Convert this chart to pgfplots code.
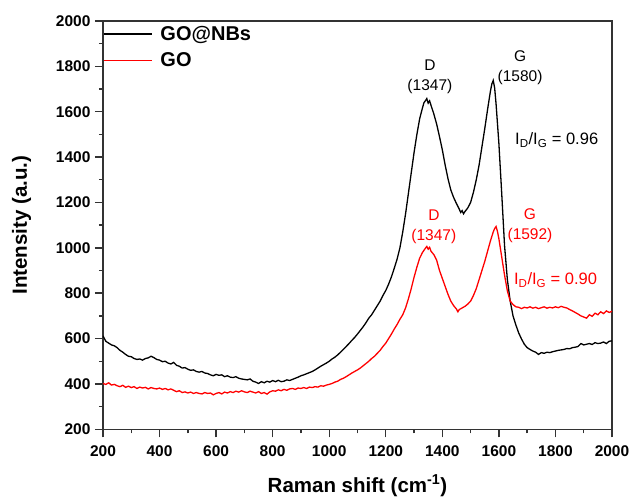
\documentclass[border=0pt]{standalone}
\usepackage{pgfplots}
\pgfplotsset{compat=1.18}
\usepackage{fontspec}
\setmainfont{Liberation Sans}
\begin{document}
\begin{tikzpicture}[x=1pt,y=1pt]
\useasboundingbox (-103,-69) rectangle (527,429.3);
\begin{axis}[at={(0,0)}, anchor=south west, scale only axis,
 width=509pt, height=408.3pt,
 xmin=200, xmax=2000, ymin=200, ymax=2000,
 xtick={200,400,...,2000}, ytick={200,400,...,2000},
 minor x tick num=1, minor y tick num=1,
 tick align=outside, major tick length=8pt, minor tick length=4pt,
 xtick pos=left, ytick pos=left,
 axis line style={black!80, line width=1.4pt},
 tick style={black!80, line width=1.4pt},
 ticklabel style={font=\bfseries\fontsize{15.5}{18}\selectfont},
 xticklabel style={yshift=-5pt},
 yticklabel style={xshift=-1pt},
 /pgf/number format/assume math mode=true,
 /pgf/number format/1000 sep={},
 xlabel={Raman shift (cm\textsuperscript{-1})},
 ylabel={Intensity (a.u.)},
 label style={font=\bfseries\fontsize{20.5}{24}\selectfont},
 xlabel style={yshift=-11pt},
 ylabel style={yshift=18pt},
 legend style={at={(0,1)}, anchor=north west, draw=none, fill=none,
   font=\bfseries\fontsize{20}{24}\selectfont, inner xsep=0pt, inner ysep=3pt,
   row sep=7pt, /tikz/every odd column/.append style={column sep=6pt}},
 legend cell align=left,
 legend image code/.code={\draw[#1, line width=1.3pt] (0pt,0pt) -- (48pt,0pt);},
]
\addplot[black, line width=1.3pt] table {
200 612
210 588
220 580
230 572
240 568
250 560
260 548
270 540
280 530
290 522
300 520
310 512
320 508
330 510
340 505
350 512
360 515
370 522
380 516
390 508
400 505
410 498
420 500
430 492
440 488
450 495
460 482
470 478
480 470
490 472
500 465
510 460
520 462
530 455
540 452
550 455
560 448
570 446
580 440
590 436
600 442
610 438
620 440
630 432
640 436
650 430
660 428
670 432
680 425
690 422
700 420
710 418
720 422
730 412
740 408
750 402
760 410
770 405
780 412
790 408
800 415
810 410
820 416
830 410
840 412
850 418
860 415
870 420
880 425
890 430
900 436
910 440
920 445
930 450
940 455
950 462
960 470
970 478
980 485
990 492
1000 500
1010 510
1020 518
1030 528
1040 540
1050 552
1060 565
1070 578
1080 592
1090 605
1100 620
1110 636
1120 652
1130 670
1140 690
1150 705
1160 725
1170 745
1180 765
1190 790
1200 812
1210 840
1220 872
1230 910
1240 950
1250 1000
1260 1070
1270 1150
1280 1240
1290 1330
1300 1420
1310 1500
1320 1570
1330 1618
1335 1640
1340 1648
1345 1658
1350 1638
1355 1648
1360 1628
1370 1590
1380 1545
1390 1490
1400 1432
1410 1365
1420 1305
1430 1255
1440 1222
1450 1195
1460 1170
1465 1156
1470 1164
1475 1150
1480 1160
1490 1176
1500 1200
1510 1245
1520 1300
1530 1365
1540 1445
1550 1525
1560 1610
1570 1690
1575 1722
1580 1738
1585 1705
1590 1635
1600 1460
1610 1240
1620 1010
1630 860
1640 765
1650 700
1660 660
1670 625
1680 598
1690 575
1700 560
1710 552
1720 545
1730 540
1740 530
1750 538
1760 535
1770 540
1780 538
1790 542
1800 545
1810 548
1820 550
1830 552
1840 556
1850 555
1860 560
1870 562
1880 565
1890 578
1900 572
1910 575
1920 578
1930 574
1940 582
1950 578
1960 580
1970 585
1980 578
1990 588
2000 590
};
\addlegendentry{GO@NBs}
\addplot[red, line width=1.3pt] table {
200 402
210 398
220 405
230 395
240 398
250 392
260 388
270 394
280 385
290 390
300 384
310 388
320 380
330 386
340 382
350 385
360 378
370 384
380 380
390 378
400 382
410 376
420 380
430 374
440 378
450 372
460 366
470 370
480 362
490 365
500 360
510 364
520 358
530 362
540 358
550 356
560 362
570 358
580 360
590 352
600 358
610 362
620 356
630 364
640 360
650 366
660 362
670 368
680 364
690 370
700 365
710 362
720 368
730 364
740 360
750 366
760 358
770 362
780 355
790 365
800 370
810 368
820 374
830 370
840 376
850 372
860 378
870 380
880 376
890 382
900 380
910 384
920 380
930 386
940 384
950 388
960 386
970 392
980 390
990 395
1000 398
1010 402
1020 408
1030 412
1040 420
1050 425
1060 432
1070 440
1080 448
1090 455
1100 462
1110 470
1120 480
1130 490
1140 500
1150 512
1160 522
1170 535
1180 548
1190 565
1200 580
1210 600
1220 620
1230 642
1240 662
1250 685
1260 705
1270 735
1280 775
1290 820
1300 870
1310 915
1320 955
1330 980
1340 998
1345 1006
1350 994
1355 1002
1360 985
1370 970
1380 945
1390 900
1400 865
1410 830
1420 795
1430 765
1440 745
1450 730
1455 718
1460 728
1470 735
1480 742
1490 752
1500 765
1510 790
1520 820
1530 860
1540 900
1550 940
1560 985
1570 1030
1580 1070
1585 1085
1590 1094
1595 1072
1600 1040
1610 960
1620 880
1630 810
1640 765
1650 750
1660 740
1670 738
1680 732
1690 738
1700 735
1710 740
1720 734
1730 738
1740 732
1750 736
1760 740
1770 734
1780 738
1790 735
1800 740
1810 736
1820 742
1830 738
1840 735
1850 728
1860 722
1870 715
1880 708
1890 700
1900 695
1910 690
1920 705
1930 698
1940 712
1950 705
1960 718
1970 710
1980 722
1990 715
2000 720
};
\addlegendentry{GO}
\node[font=\fontsize{15.5}{20}\selectfont, align=center] at (axis cs:1356,1752) {D\\(1347)};
\node[font=\fontsize{15.5}{20}\selectfont, align=center] at (axis cs:1675,1796) {G\\(1580)};
\node[font=\fontsize{16.5}{20}\selectfont, anchor=west, inner sep=0pt] at (axis cs:1657,1474) {I\textsubscript{D}/I\textsubscript{G} = 0.96};
\node[red, font=\fontsize{15.5}{20}\selectfont, align=center] at (axis cs:1370,1092) {D\\(1347)};
\node[red, font=\fontsize{15.5}{20}\selectfont, align=center] at (axis cs:1710,1097) {G\\(1592)};
\node[red, font=\fontsize{16.5}{20}\selectfont, anchor=west, inner sep=0pt] at (axis cs:1653,857) {I\textsubscript{D}/I\textsubscript{G} = 0.90};
\end{axis}
\end{tikzpicture}
\end{document}
